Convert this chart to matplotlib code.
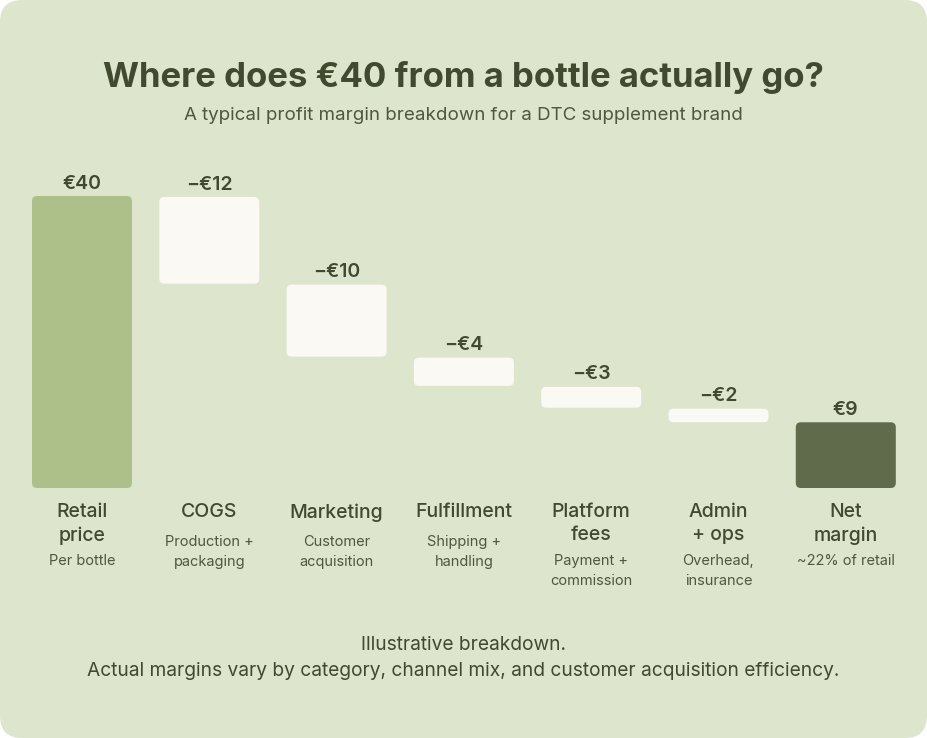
import matplotlib
matplotlib.use("Agg")
import matplotlib.pyplot as plt
from matplotlib.patches import FancyBboxPatch

plt.rcParams['font.family'] = ['Inter', 'DejaVu Sans']

categories = ["Retail\nprice", "COGS", "Marketing", "Fulfillment", "Platform\nfees", "Admin\n+ ops", "Net\nmargin"]
sublabels = ["Per bottle", "Production +\npackaging", "Customer\nacquisition", "Shipping +\nhandling",
             "Payment +\ncommission", "Overhead,\ninsurance", "~22% of retail"]
values = [40, -12, -10, -4, -3, -2, 9]
value_labels = ["€40", "−€12", "−€10", "−€4", "−€3", "−€2", "€9"]
kinds = ["total", "delta", "delta", "delta", "delta", "delta", "total"]

BG = "#DDE5CD"
DARK = "#3F4A2E"
SUB = "#4F5743"
C_RETAIL = "#ADC08A"
C_DELTA = "#FAF9F4"
C_NET = "#5F6B4B"

W, H = 927, 738
fig = plt.figure(figsize=(W/100, H/100), dpi=100)
fig.patch.set_facecolor("white")
bg = FancyBboxPatch((0, 0), 1, 1, boxstyle="round,pad=0,rounding_size=0.024",
                    mutation_aspect=W/H, transform=fig.transFigure,
                    facecolor=BG, edgecolor="none", zorder=-10)
fig.patches.append(bg)

# axes: bar i center at pixel 82 + 127.3*i ; value 0 at px 488, 40 at px 196
step = 127.3
x0 = -82/step
x1 = (W-82)/step
ax = fig.add_axes([0, (H-488)/H, 1, (488-196)/H])
ax.set_zorder(5)
ax.set_xlim(x0, x1)
ax.set_ylim(0, 40)
ax.axis("off")
ax.patch.set_alpha(0)

px_x = step
px_y = (488-196)/40
aspect = px_x/px_y
bw = 100/step
r = 5/step

running = 0
for i, (v, k) in enumerate(zip(values, kinds)):
    if k == "total":
        bottom, top = 0, v
        running = v
        color = C_RETAIL if i == 0 else C_NET
    else:
        top = running
        bottom = running + v
        running = bottom
        color = C_DELTA
    gap = 1/px_y
    top_d = top - gap if k == "delta" else top
    p = FancyBboxPatch((i - bw/2, bottom), bw, top_d - bottom,
                       boxstyle=f"round,pad=0,rounding_size={r}",
                       mutation_aspect=aspect, facecolor=color, edgecolor="none")
    ax.add_patch(p)
    ax.annotate(value_labels[i], (i, top_d), xytext=(0, 2.5), textcoords="offset points",
                ha="center", va="bottom", fontsize=14, fontweight="semibold", color=DARK,
                annotation_clip=False)
    nlines = categories[i].count("\n") + 1
    ax.annotate(categories[i], (i, 0), xytext=(0, -11), textcoords="offset points",
                ha="center", va="top", fontsize=14, fontweight="medium", color=DARK,
                linespacing=1.33, annotation_clip=False)
    off = -33.8 - 13.7*(nlines - 1)
    ax.annotate(sublabels[i], (i, 0), xytext=(0, off), textcoords="offset points",
                ha="center", va="top", fontsize=10.5, color=SUB,
                linespacing=1.59, annotation_clip=False)

fig.text(0.5, 1-78/H, "Where does €40 from a bottle actually go?", ha="center", va="center",
         fontsize=25, fontweight="bold", color=DARK)
fig.text(0.5, 1-115/H, "A typical profit margin breakdown for a DTC supplement brand", ha="center",
         va="center", fontsize=13.5, color=SUB)
fig.text(0.5, 1-645/H, "Illustrative breakdown.", ha="center", va="center", fontsize=13.8, color=DARK)
fig.text(0.5, 1-671/H, "Actual margins vary by category, channel mix, and customer acquisition efficiency.",
         ha="center", va="center", fontsize=13.8, color=DARK)

fig.savefig("out.png", dpi=100, facecolor=fig.get_facecolor())
